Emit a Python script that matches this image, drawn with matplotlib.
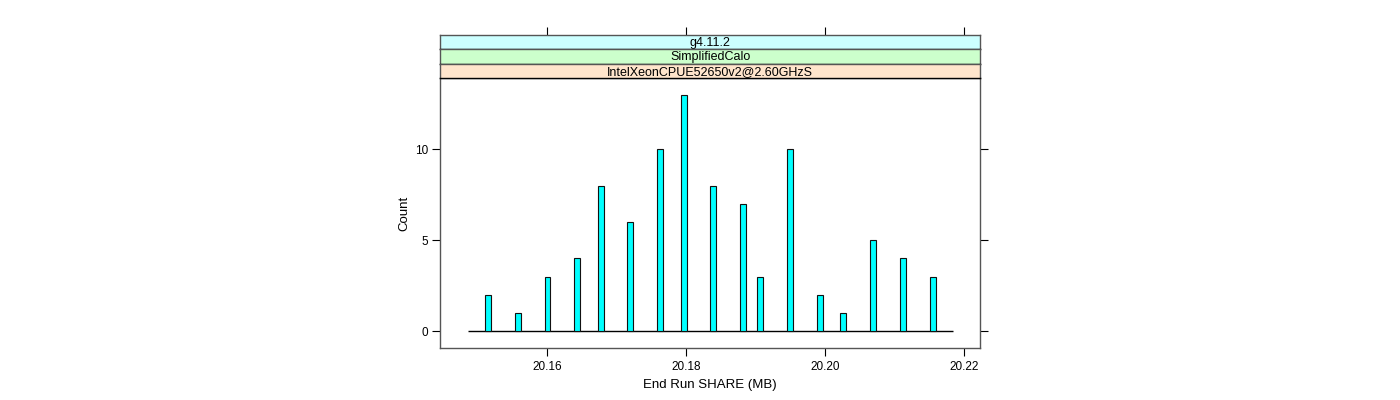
import matplotlib
matplotlib.use("Agg")
import matplotlib.pyplot as plt

plt.rcParams['font.family'] = ['Liberation Sans', 'DejaVu Sans']

# End run SHARE values (MB) and counts
share_mb = [20.15156, 20.15587, 20.16007, 20.16436, 20.16774, 20.17198, 20.17629,
            20.17966, 20.18391, 20.18818, 20.19067, 20.19498, 20.19925, 20.20260,
            20.20687, 20.21114, 20.21546]
counts = [2, 1, 3, 4, 8, 6, 10, 13, 8, 7, 3, 10, 2, 1, 5, 4, 3]

strip_labels = ["g4.11.2", "SimplifiedCalo", "IntelXeonCPUE52650v2@2.60GHzS"]
strip_colors = ["#ccffff", "#ccffcc", "#ffe5cc"]

x_ticks = [20.16, 20.18, 20.20, 20.22]
y_ticks = [0, 5, 10]
frame_col = "#555555"

W, H = 1400, 400
fig = plt.figure(figsize=(W / 100, H / 100), dpi=100)

left, right = 440.3, 980.3
bottom, top = 348.0, 78.3
ax = fig.add_axes([left / W, 1 - bottom / H, (right - left) / W, (bottom - top) / H])

# baseline + thin bars
pad = 0.00298
ax.hlines(0, min(share_mb) - pad, max(share_mb) + pad, color="black", lw=1.0, zorder=2)
ax.bar(share_mb, counts, width=0.00085, color="#00ffff", edgecolor="#111111",
       linewidth=0.8, zorder=3)

ax.set_xlim(20.14466, 20.2223)
ax.set_ylim(-0.918, 13.9)
ax.set_xticks(x_ticks)
ax.set_xticklabels(["%.2f" % v for v in x_ticks])
ax.set_yticks(y_ticks)
ax.tick_params(axis="both", direction="out", length=6, width=0.8, color="black",
               labelsize=8.5, pad=3)
ax.tick_params(axis="y", right=True, labelright=False)
for s in ax.spines.values():
    s.set_color(frame_col)
    s.set_linewidth(1.0)
ax.set_xlabel("End Run SHARE (MB)", fontsize=9.5, labelpad=5)
ax.set_ylabel("Count", fontsize=9.5, labelpad=3)

# strips on top, bottom one nearest to panel
strip_h = (top - 35.0) / 3
for i, (lab, col) in enumerate(zip(strip_labels, strip_colors)):
    y_top = 35.0 + i * strip_h
    sax = fig.add_axes([left / W, 1 - (y_top + strip_h) / H, (right - left) / W, strip_h / H],
                       sharex=ax)
    sax.set_facecolor(col)
    sax.set_yticks([])
    sax.tick_params(axis="x", bottom=False, labelbottom=False)
    if i == 0:
        sax.tick_params(axis="x", top=True, labeltop=False, direction="out",
                        length=6, width=0.8, color="black")
    for s in sax.spines.values():
        s.set_color(frame_col)
        s.set_linewidth(1.0)
    sax.spines["bottom"].set_color("black")
    sax.text(0.5, 0.45, lab, transform=sax.transAxes, ha="center", va="center",
             fontsize=9)

fig.savefig("out.png", dpi=100)
